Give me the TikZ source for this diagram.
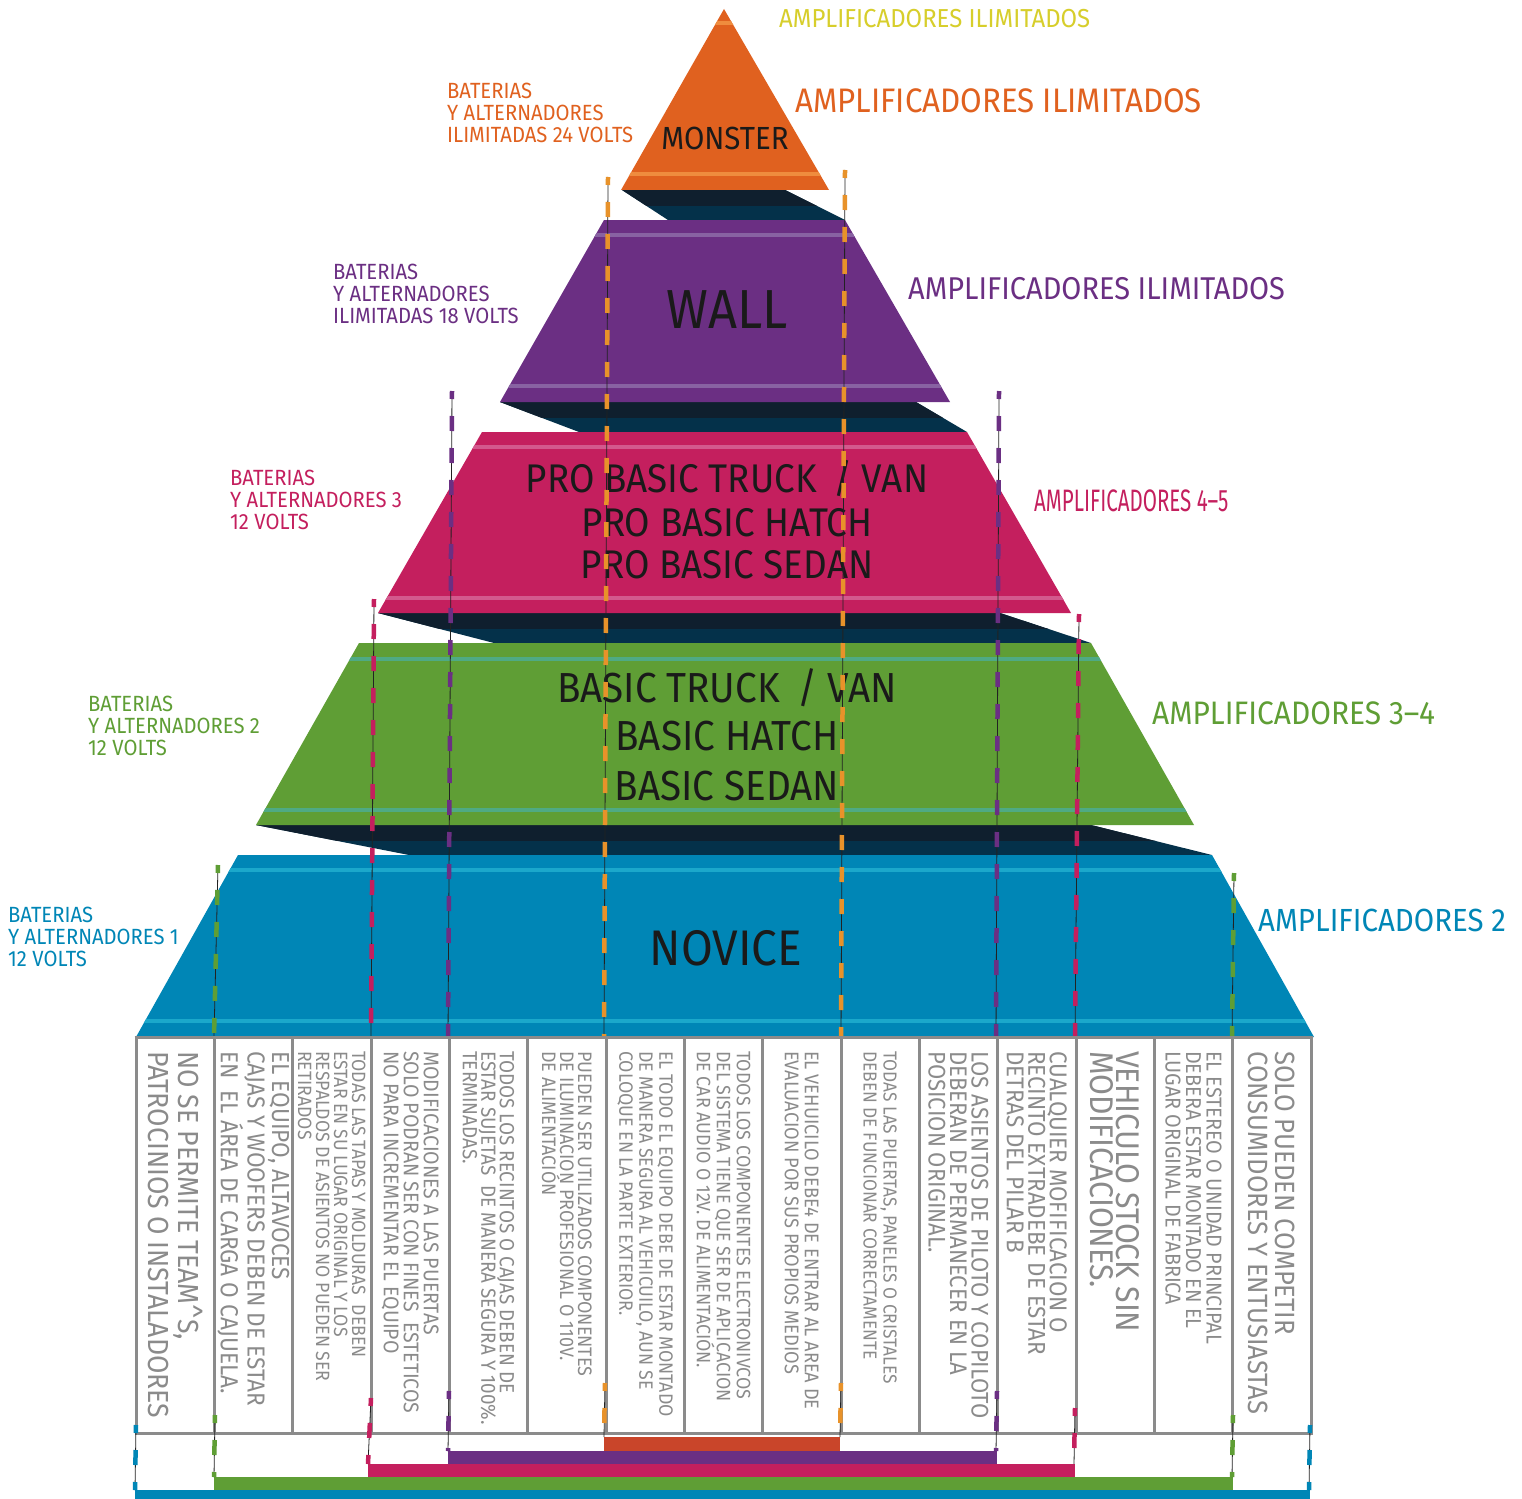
\documentclass[tikz,border=0pt]{standalone}
\usepackage{fontspec}
\setmainfont[FakeStretch=0.92]{Fira Sans}
\definecolor{cOrange}{HTML}{E0611F}
\definecolor{cOrStripe}{HTML}{EF8C3E}
\definecolor{cOrDash}{HTML}{E8922A}
\definecolor{cBarOr}{HTML}{C9452A}
\definecolor{cPurple}{HTML}{6B2F83}
\definecolor{cPuStripe}{HTML}{8862A2}
\definecolor{cMag}{HTML}{C41F5E}
\definecolor{cMaStripe}{HTML}{D3598D}
\definecolor{cGreen}{HTML}{5F9E35}
\definecolor{cGrStripe}{HTML}{4FAA84}
\definecolor{cBlue}{HTML}{0086B6}
\definecolor{cBlStripe}{HTML}{1BA8CB}
\definecolor{cShHi}{HTML}{0F1F2E}
\definecolor{cShLo}{HTML}{04314A}
\definecolor{cInk}{HTML}{1A1A1A}
\definecolor{cGray}{HTML}{8B8B8B}
\definecolor{cYellow}{HTML}{D7CE2B}
\definecolor{cLine}{HTML}{222222}
\newcommand\fsz[2]{\fontsize{#1}{#2}\selectfont}
\begin{document}
\begin{tikzpicture}[x=1pt,y=-1pt,
  layertxt/.style={text=cInk, inner sep=0pt, anchor=base},
  sidelbl/.style={inner sep=0pt, anchor=north west, align=left},
  conn/.style={draw=cLine, line width=0.8pt, postaction={draw=#1, line width=4.5pt, dash pattern=on 15pt off 17pt, dash phase=7pt}},
  colrule/.style={draw=cGray, line width=3pt},
  coltxt/.style={rotate=-90, anchor=west, inner sep=0pt, align=left, text=cGray}]
\useasboundingbox (0,0) rectangle (1522,1498);
\fill[white] (0,0) rectangle (1522,1498);

% ---------- shadows ----------
\fill[cShLo] (622,190) -- (785,190) -- (845,220) -- (668,220) -- cycle;
\begin{scope}\clip (0,189) rectangle (1522,205);
\fill[cShHi] (622,190) -- (785,190) -- (845,220) -- (668,220) -- cycle;\end{scope}
\fill[cShLo] (500,402) -- (916,402) -- (967,432) -- (579,432) -- cycle;
\begin{scope}\clip (0,401) rectangle (1522,417);
\fill[cShHi] (500,402) -- (916,402) -- (967,432) -- (579,432) -- cycle;\end{scope}
\fill[cShLo] (378,613) -- (1000,613) -- (1091,643) -- (494,643) -- cycle;
\begin{scope}\clip (0,612) rectangle (1522,628);
\fill[cShHi] (378,613) -- (1000,613) -- (1091,643) -- (494,643) -- cycle;\end{scope}
\fill[cShLo] (256,825) -- (1091,825) -- (1212,855) -- (409,855) -- cycle;
\begin{scope}\clip (0,824) rectangle (1522,840);
\fill[cShHi] (256,825) -- (1091,825) -- (1212,855) -- (409,855) -- cycle;\end{scope}

% ---------- layers ----------
\fill[cOrange] (724,9) -- (829,190) -- (621,190) -- cycle;
\begin{scope}\clip (724,9) -- (829,190) -- (621,190) -- cycle;
\fill[cOrStripe] (0,21) rectangle (1522,25); \fill[cOrStripe] (0,172) rectangle (1522,176);\end{scope}

\fill[cPurple] (604,220) -- (845,220) -- (950,402) -- (500,402) -- cycle;
\begin{scope}\clip (604,220) -- (845,220) -- (950,402) -- (500,402) -- cycle;
\fill[cPuStripe] (0,233) rectangle (1522,237); \fill[cPuStripe] (0,384) rectangle (1522,388);\end{scope}

\fill[cMag] (482,432) -- (967,432) -- (1071,613) -- (378,613) -- cycle;
\begin{scope}\clip (482,432) -- (967,432) -- (1071,613) -- (378,613) -- cycle;
\fill[cMaStripe] (0,445) rectangle (1522,449); \fill[cMaStripe] (0,596) rectangle (1522,600);\end{scope}

\fill[cGreen] (359,643) -- (1091,643) -- (1194,825) -- (256,825) -- cycle;
\begin{scope}\clip (359,643) -- (1091,643) -- (1194,825) -- (256,825) -- cycle;
\fill[cGrStripe] (0,657) rectangle (1522,661); \fill[cGrStripe] (0,808) rectangle (1522,812);\end{scope}

\fill[cBlue] (238,855) -- (1212,855) -- (1314,1037) -- (136,1037) -- cycle;
\begin{scope}\clip (238,855) -- (1212,855) -- (1314,1037) -- (136,1037) -- cycle;
\fill[cBlStripe] (0,868) rectangle (1522,872); \fill[cBlStripe] (0,1019) rectangle (1522,1023);\end{scope}

% ---------- layer texts ----------
\node[layertxt, font=\fsz{32}{32}] (tMon) at (725,150) {MONSTER};
\node[layertxt, font=\fsz{55}{55}] (tWall) at (727,328) {WALL};
\node[layertxt, font=\fsz{40}{40}] (tPro1) at (727,492) {PRO BASIC TRUCK \,/ VAN};
\node[layertxt, font=\fsz{40}{40}] (tPro2) at (727,536) {PRO BASIC HATCH};
\node[layertxt, font=\fsz{40}{40}] (tPro3) at (727,578) {PRO BASIC SEDAN};
\node[layertxt, font=\fsz{42}{42}] (tBas1) at (727,702) {BASIC TRUCK \,/ VAN};
\node[layertxt, font=\fsz{42}{42}] (tBas2) at (727,750) {BASIC HATCH};
\node[layertxt, font=\fsz{42}{42}] (tBas3) at (727,800) {BASIC SEDAN};
\node[layertxt, font=\fsz{50}{50}] (tNov) at (726,965) {NOVICE};

% ---------- side labels ----------
\node[sidelbl, text=cYellow, font=\fsz{26}{26}] (aTop) at (779,9) {AMPLIFICADORES ILIMITADOS};
\node[sidelbl, text=cOrange, font=\fsz{34}{34}] (aMon) at (795,88) {AMPLIFICADORES ILIMITADOS};
\node[sidelbl, text=cPurple, font=\fsz{31.5}{32}] (aWall) at (908,277) {AMPLIFICADORES ILIMITADOS};
\node[sidelbl, text=cMag, font=\fsz{31}{31}] (aPro) at (1034,490) {\scalebox{0.72}[1]{AMPLIFICADORES 4--5}};
\node[sidelbl, text=cGreen, font=\fsz{32.5}{33}] (aBas) at (1152,702) {AMPLIFICADORES 3--4};
\node[sidelbl, text=cBlue, font=\fsz{32}{32}] (aNov) at (1258,909) {AMPLIFICADORES 2};

\node[sidelbl, text=cOrange, font=\fsz{22}{22}] (bMon) at (447,83) {BATERIAS\\Y ALTERNADORES\\ILIMITADAS 24 VOLTS};
\node[sidelbl, text=cPurple, font=\fsz{22}{22}] (bWall) at (333,264) {BATERIAS\\Y ALTERNADORES\\ILIMITADAS 18 VOLTS};
\node[sidelbl, text=cMag, font=\fsz{22}{22}] (bPro) at (230,470) {BATERIAS\\Y ALTERNADORES 3\\12 VOLTS};
\node[sidelbl, text=cGreen, font=\fsz{22}{22}] (bBas) at (88,696) {BATERIAS\\Y ALTERNADORES 2\\12 VOLTS};
\node[sidelbl, text=cBlue, font=\fsz{22}{22}] (bNov) at (8,907) {BATERIAS\\Y ALTERNADORES 1\\12 VOLTS};

% ---------- connector coordinates ----------
\coordinate (oLt) at (608,177); \coordinate (oLa) at (604,1037);
\coordinate (oRt) at (845,170); \coordinate (oRa) at (841,1037);
\coordinate (pLt) at (452,391); \coordinate (pLa) at (448,1037);
\coordinate (pRt) at (999,391); \coordinate (pRa) at (996,1037);
\coordinate (mLt) at (374,599); \coordinate (mLa) at (371,1037);
\coordinate (mRt) at (1079,614); \coordinate (mRa) at (1075,1037);
\coordinate (gLt) at (218,865); \coordinate (gLa) at (214,1037);
\coordinate (gRt) at (1234,873); \coordinate (gRa) at (1232,1037);

\draw[conn=cOrDash] (oLt) -- (oLa);
\draw[conn=cOrDash] (oRt) -- (oRa);
\draw[conn=cPurple] (pLt) -- (pLa);
\draw[conn=cPurple] (pRt) -- (pRa);
\draw[conn=cMag] (mLt) -- (mLa);
\draw[conn=cMag] (mRt) -- (mRa);
\draw[conn=cGreen] (gLt) -- (gLa);
\draw[conn=cGreen] (gRt) -- (gRa);

% ---------- table ----------
\fill[white] (136,1037) rectangle (1311,1433);
\foreach \i in {0,...,15} { \draw[colrule] ({136+\i*78.333},1037) -- ({136+\i*78.333},1433); }
\draw[colrule] (134.5,1037) -- (1312.5,1037);
\draw[colrule] (134.5,1433) -- (1312.5,1433);

\node[coltxt, font=\fsz{29}{30}] (c1) at (175.2,1051) {NO SE PERMITE TEAM\textasciicircum S,\\PATROCINIOS O INSTALADORES};
\node[coltxt, font=\fsz{24.6}{24.5}] (c2) at (253.5,1051) {EL EQUIPO, ALTAVOCES\\CAJAS Y WOOFERS DEBEN DE ESTAR\\EN~ EL ÁREA DE CARGA O CAJUELA.};
\node[coltxt, font=\fsz{19.2}{18}] (c3) at (331.8,1051) {TODAS LAS TAPAS Y MOLDURAS~ DEBEN\\ESTAR EN SU LUGAR ORIGINAL Y LOS\\RESPALDOS DE ASIENTOS NO PUEDEN SER\\RETIRADOS};
\node[coltxt, font=\fsz{21.2}{20}] (c4) at (410.2,1051) {MODIFICACIONES A LAS PUERTAS\\SOLO PODRAN SER CON FINES~ ESTETICOS\\NO PARA INCREMENTAR EL EQUIPO};
\node[coltxt, font=\fsz{20.5}{18.5}] (c5) at (488.5,1051) {TODOS LOS RECINTOS O CAJAS DEBEN DE\\ESTAR SUJETAS~ DE MANERA SEGURA Y 100\%.\\TERMINADAS.};
\node[coltxt, font=\fsz{19.5}{18}] (c6) at (566.8,1051) {PUEDEN SER UTILIZADOS COMPONENTES\\DE ILUMINACION PROFESIONAL O 110V.\\DE ALIMENTACIÓN};
\node[coltxt, font=\fsz{19.3}{20}] (c7) at (645.2,1051) {EL TODO EL EQUIPO DEBE DE ESTAR MONTADO\\DE MANERA SEGURA AL VEHICUILO, AUN SE\\COLOQUE EN LA PARTE EXTERIOR.};
\node[coltxt, font=\fsz{19.4}{20}] (c8) at (723.5,1051) {TODOS LOS COMPONENTES ELECTRONIVCOS\\DEL SISTEMA TIENE QUE SER DE APLICACION\\DE CAR AUDIO O 12V. DE ALIMENTACIÓN.};
\node[coltxt, font=\fsz{19.8}{20}] (c9) at (801.8,1051) {EL VEHUICILO DEBE4 DE ENTRAR AL AREA DE\\EVALUACION POR SUS PROPIOS MEDIOS};
\node[coltxt, font=\fsz{18.8}{20}] (c10) at (880.2,1051) {TODAS LAS PUERTAS, PANELES O CRISTALES\\DEBEN DE FUNCIONAR CORRECTAMENTE};
\node[coltxt, font=\fsz{24}{21.5}] (c11) at (958.5,1051) {LOS ASIENTOS DE PILOTO Y COPILOTO\\DEBERAN DE PERMANECER EN LA\\POSICION ORIGINAL.};
\node[coltxt, font=\fsz{24.3}{21.5}] (c12) at (1036.8,1051) {CUALQUIER MOFIFICACION O\\RECINTO EXTRADEBE DE ESTAR\\DETRAS DEL PILAR B};
\node[coltxt, font=\fsz{32.8}{26}] (c13) at (1115.2,1051) {VEHICULO STOCK SIN\\MODIFICACIONES.};
\node[coltxt, font=\fsz{21.5}{20.5}] (c14) at (1193.5,1051) {EL ESTEREO O UNIDAD PRINCIPAL\\DEBERA ESTAR MONTADO EN EL\\LUGAR ORIGINAL DE FABRICA};
\node[coltxt, font=\fsz{27.8}{27}] (c15) at (1271.8,1051) {SOLO PUEDEN COMPETIR\\CONSUMIDORES Y ENTUSIASTAS};

% ---------- bars ----------
\fill[cBarOr] (604,1437) rectangle (840,1452);
\fill[cPurple] (448,1451) rectangle (997,1466);
\fill[cMag] (368,1464) rectangle (1075,1479);
\fill[cGreen] (214,1477) rectangle (1233,1492);
\fill[cBlue] (135,1490) rectangle (1310,1499);

% ---------- lower connector segments ----------
\coordinate (oLb) at (605,1383); \coordinate (oLe) at (604,1437);
\coordinate (oRb) at (841,1383); \coordinate (oRe) at (840,1437);
\coordinate (pLb) at (449,1391); \coordinate (pLe) at (448,1451);
\coordinate (pRb) at (997,1391); \coordinate (pRe) at (996,1451);
\coordinate (mLb) at (371,1398); \coordinate (mLe) at (368,1464);
\coordinate (mRb) at (1075,1408); \coordinate (mRe) at (1074,1464);
\coordinate (gLb) at (215,1415); \coordinate (gLe) at (214,1477);
\coordinate (gRb) at (1233,1415); \coordinate (gRe) at (1232,1477);
\coordinate (bLb) at (136,1425); \coordinate (bLe) at (135,1490);
\coordinate (bRb) at (1310,1425); \coordinate (bRe) at (1309,1490);
\draw[conn=cOrDash] (oLb) -- (oLe);
\draw[conn=cOrDash] (oRb) -- (oRe);
\draw[conn=cPurple] (pLb) -- (pLe);
\draw[conn=cPurple] (pRb) -- (pRe);
\draw[conn=cMag] (mLb) -- (mLe);
\draw[conn=cMag] (mRb) -- (mRe);
\draw[conn=cGreen] (gLb) -- (gLe);
\draw[conn=cGreen] (gRb) -- (gRe);
\draw[conn=cBlue] (bLb) -- (bLe);
\draw[conn=cBlue] (bRb) -- (bRe);
\end{tikzpicture}
\end{document}
